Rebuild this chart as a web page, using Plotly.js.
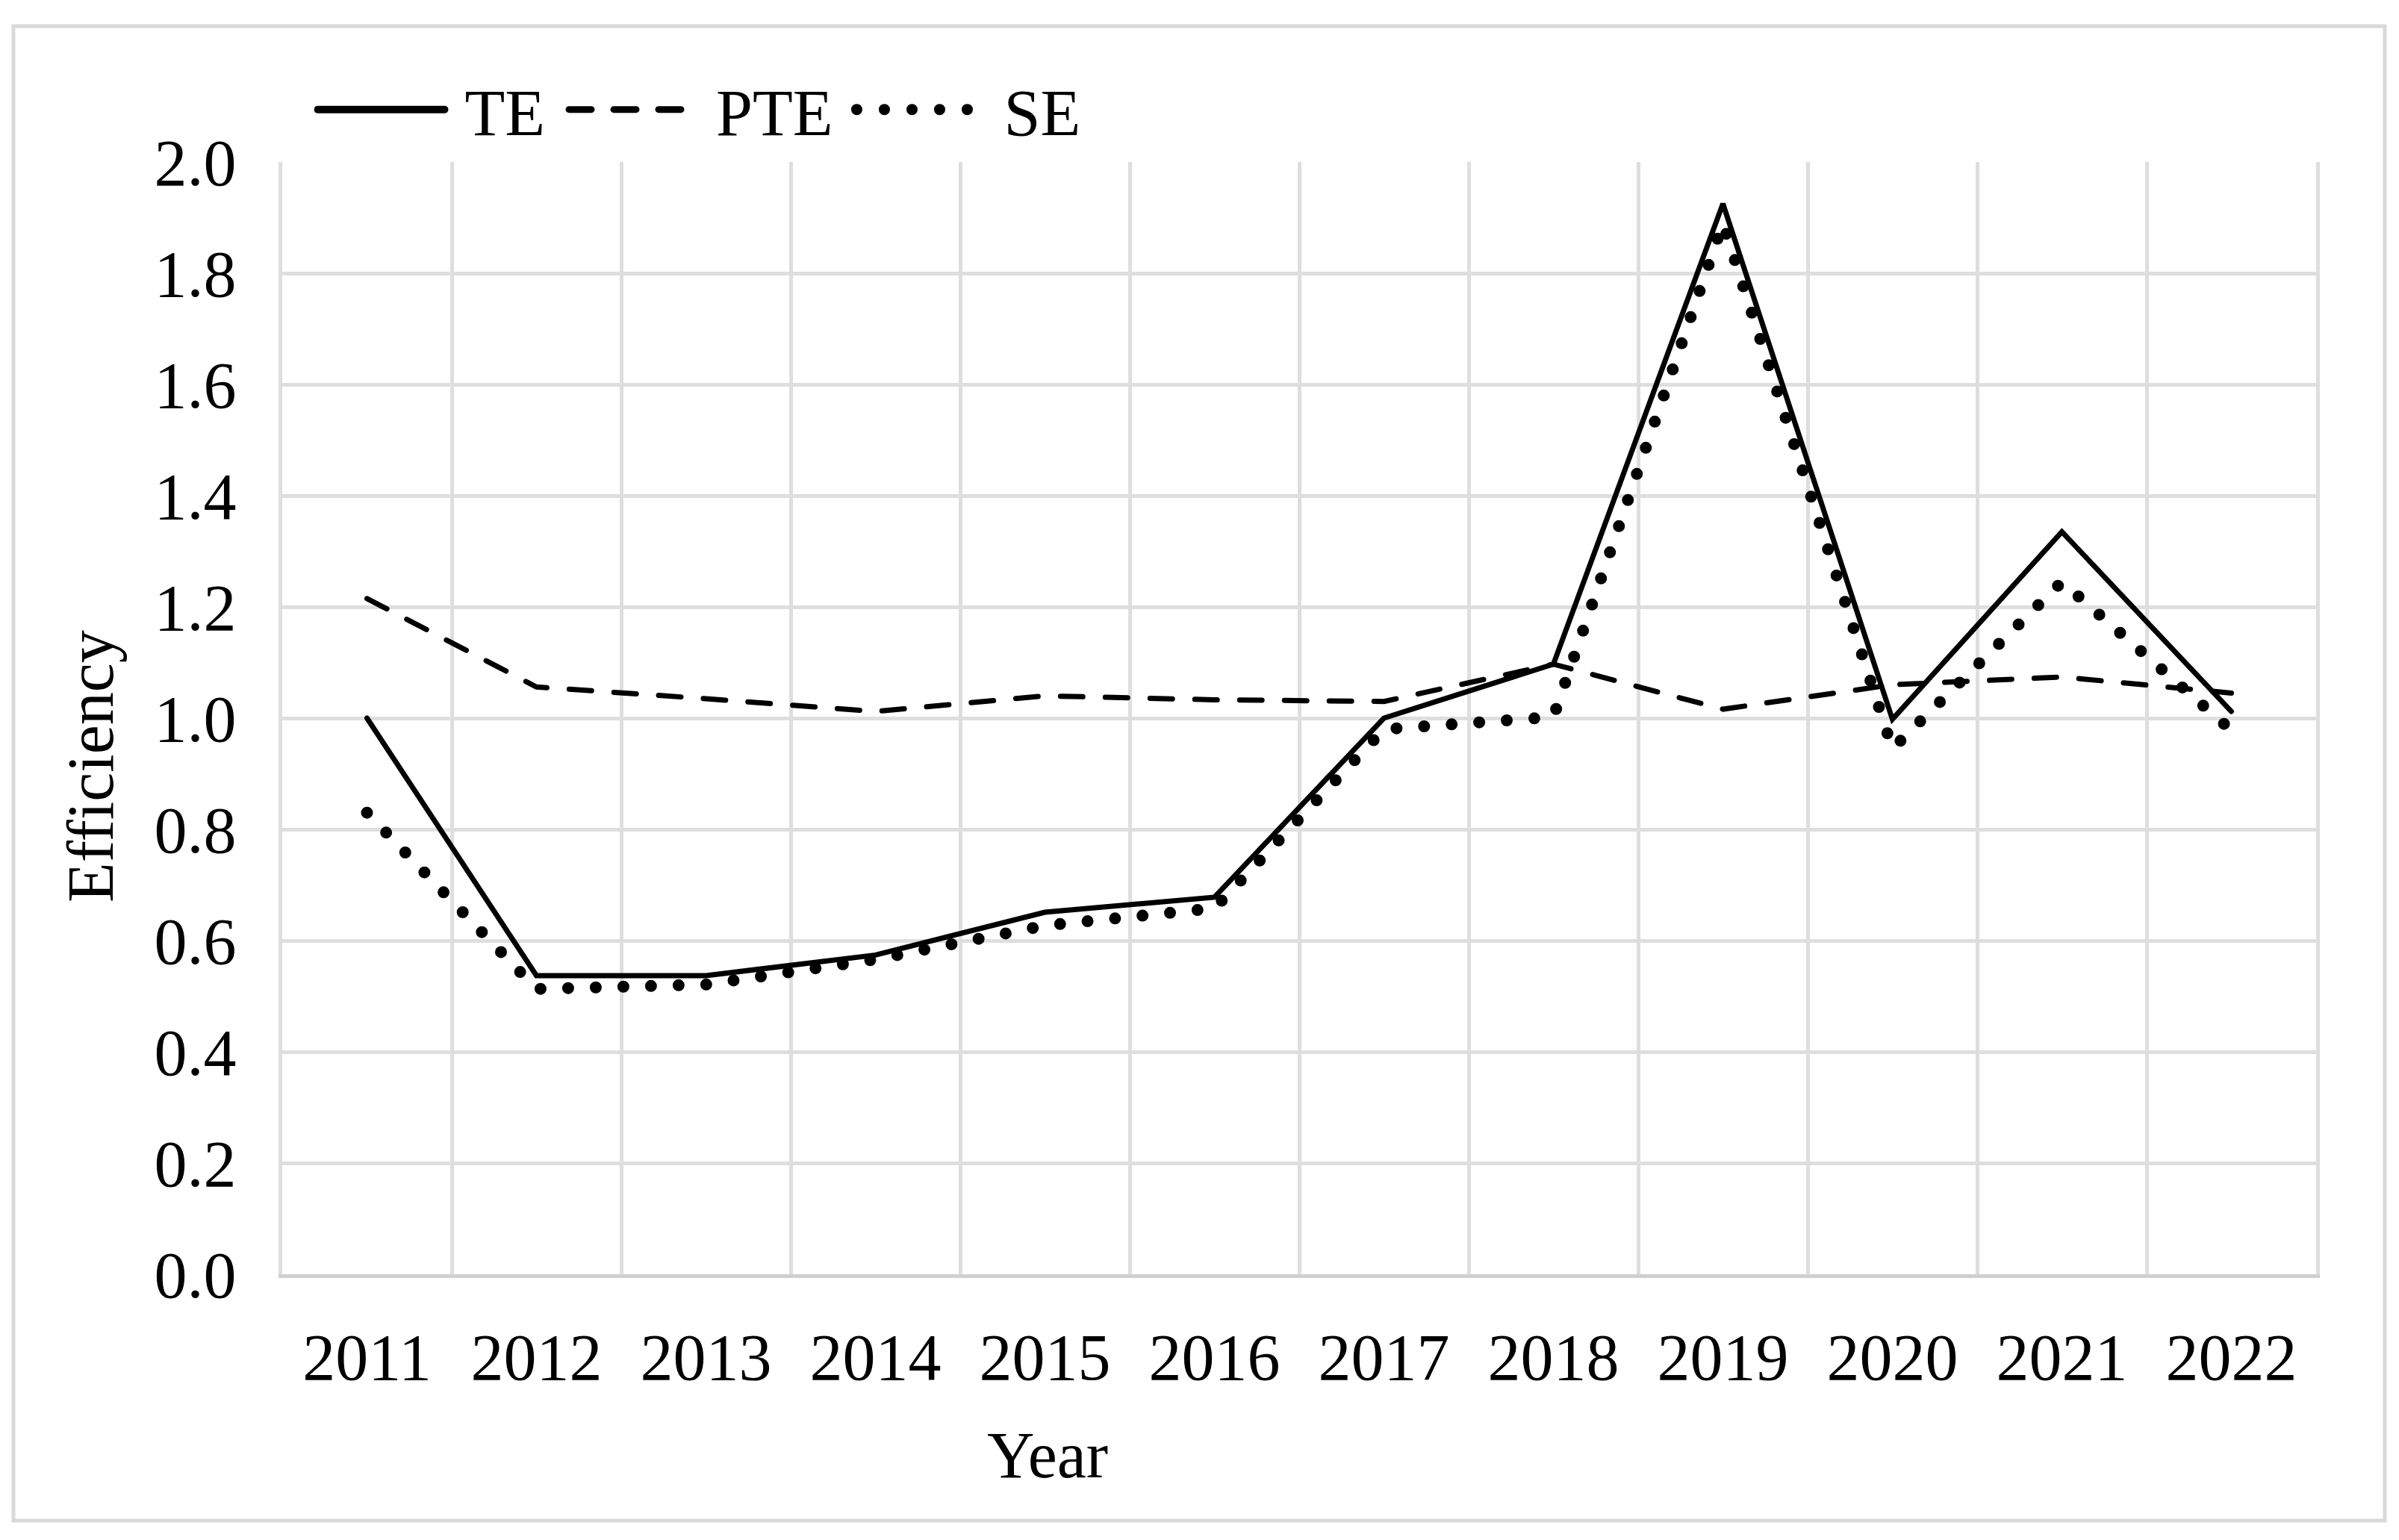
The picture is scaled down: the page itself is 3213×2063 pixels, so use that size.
<!DOCTYPE html>
<html>
<head>
<meta charset="utf-8">
<script src="https://cdn.plot.ly/plotly-3.0.1.min.js"></script>
<style>
  html, body { margin: 0; padding: 0; background: #fff; }
  #chart { width: 3213px; height: 2063px; }
  .js-line { stroke-linecap: round; }
  /* legend samples are a bit heavier than plotly's capped widths */
  .legend .traces:nth-of-type(1) .js-line { stroke-width: 10px !important; }
  .legend .traces:nth-of-type(2) .js-line { stroke-width: 9px !important; }
  .legend .traces:nth-of-type(3) .js-line { stroke-width: 15px !important; }
</style>
</head>
<body>
<div id="chart"></div>
<script>
// years on the x axis
var years = ['2011', '2012', '2013', '2014', '2015', '2016', '2017', '2018', '2019', '2020', '2021', '2022'];

// efficiency values
var teValues  = [1.00, 0.537, 0.537, 0.574, 0.651, 0.678, 1.00, 1.097, 1.925, 0.998, 1.335, 1.012];
var pteValues = [1.215, 1.056, 1.035, 1.012, 1.040, 1.033, 1.030, 1.097, 1.016, 1.060, 1.074, 1.045];
var seValues  = [0.83, 0.513, 0.521, 0.566, 0.627, 0.658, 0.98, 1.002, 1.89, 0.945, 1.245, 0.978];

var fontName = '"Liberation Serif", "Times New Roman", serif';

var traceTE = {
  x: years, y: teValues, name: '\u00a0TE\u00a0', type: 'scatter', mode: 'lines',
  line: { color: '#000', width: 7 }
};
var tracePTE = {
  x: years, y: pteValues, name: '\u00a0PTE\u00a0', type: 'scatter', mode: 'lines',
  line: { color: '#000', width: 7, dash: '30px,30px' }
};
var traceSE = {
  x: years, y: seValues, name: '\u00a0SE', type: 'scatter', mode: 'lines',
  line: { color: '#000', width: 16, dash: '0px,37px' }
};

var data = [traceTE, tracePTE, traceSE];

var layout = {
  width: 3213,
  height: 2063,
  margin: { l: 378, r: 111, t: 217, b: 356 },
  paper_bgcolor: '#fff',
  plot_bgcolor: '#fff',
  font: { family: fontName, size: 88, color: '#000' },
  showlegend: true,
  legend: {
    orientation: 'h',
    x: 0.0156, xanchor: 'left',
    y: 1.047, yanchor: 'middle',
    bgcolor: 'rgba(0,0,0,0)',
    itemwidth: 170,
    font: { family: fontName, size: 88, color: '#000' }
  },
  xaxis: {
    type: 'category',
    range: [-0.5, 11.5],
    tickson: 'boundaries',
    ticks: '',
    showgrid: true,
    gridcolor: '#dedede',
    gridwidth: 5,
    showline: true,
    linecolor: '#d0d0d0',
    linewidth: 5,
    ticklabelstandoff: 30,
    tickfont: { family: fontName, size: 88, color: '#000' },
    fixedrange: true
  },
  yaxis: {
    range: [0, 2],
    dtick: 0.2,
    tickformat: '.1f',
    ticks: '',
    showgrid: true,
    gridcolor: '#dedede',
    gridwidth: 5,
    zeroline: false,
    showline: true,
    mirror: true,
    linecolor: '#dedede',
    linewidth: 5,
    ticklabelstandoff: 39,
    tickfont: { family: fontName, size: 88, color: '#000' },
    fixedrange: true
  },
  annotations: [
    {
      text: 'Year', xref: 'paper', yref: 'paper',
      x: (1403 - 378) / 2724, y: (1707 - 1949) / 1490,
      xanchor: 'center', yanchor: 'middle', showarrow: false,
      font: { family: fontName, size: 88, color: '#000' }
    },
    {
      text: 'Efficiency', xref: 'paper', yref: 'paper',
      x: (121 - 378) / 2724, y: (1707 - 1027) / 1490,
      xanchor: 'center', yanchor: 'middle', showarrow: false, textangle: -90,
      font: { family: fontName, size: 88, color: '#000' }
    }
  ],
  shapes: [
    {
      type: 'rect', xref: 'paper', yref: 'paper',
      x0: (18 - 378) / 2724, x1: (3194 - 378) / 2724,
      y0: (1707 - 2037) / 1490, y1: (1707 - 35) / 1490,
      line: { color: '#d9d9d9', width: 5 }, layer: 'below'
    }
  ]
};

Plotly.newPlot('chart', data, layout, { displayModeBar: false, staticPlot: true });
</script>
</body>
</html>
